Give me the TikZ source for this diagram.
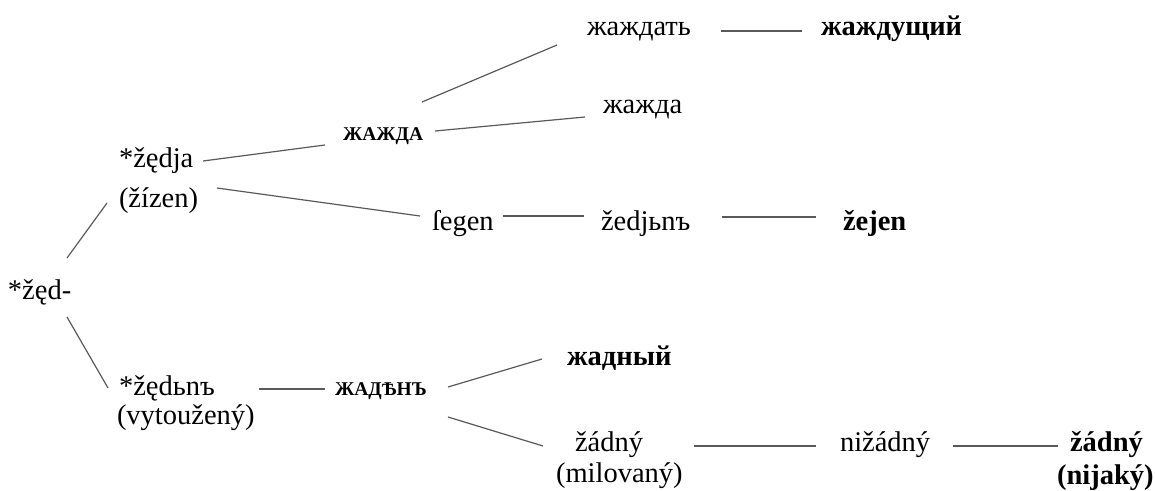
\documentclass[tikz,border=0pt]{standalone}
\usepackage{fontspec}
\setmainfont{Liberation Serif}
\begin{document}
\begin{tikzpicture}[x=1pt,y=-1pt,
  lbl/.style={anchor=base west, inner sep=0pt, outer sep=0pt, font=\fontsize{28.5}{34}\selectfont},
  bld/.style={anchor=base west, inner sep=0pt, outer sep=0pt, font=\fontsize{28.5}{34}\selectfont\bfseries},
  ocs/.style={anchor=base west, inner sep=0pt, outer sep=0pt, font=\fontsize{19.5}{22}\selectfont\bfseries},
  link/.style={draw=black!65, line width=1.2pt}]
\useasboundingbox (0,0) rectangle (1155,490);

% nodes
\node[lbl] (root) at (8,299) {*žęd-};
\node[lbl] (a1)  at (119,167) {*žędja};
\node[lbl] (a1g) at (119,207) {(žízen)};
\node[lbl] (b1)  at (119,395) {*žędьnъ};
\node[lbl] (b1g) at (117,424) {(vytoužený)};
\node[ocs] (c1)  at (343,140) {ЖАЖДА};
\node[lbl] (d1)  at (587,35) {жаждать};
\node[bld] (e1)  at (821,35) {жаждущий};
\node[lbl] (d2)  at (603,113) {жажда};
\node[lbl] (f1)  at (432,230) {ſegen};
\node[lbl] (f2)  at (601,230) {žedjьnъ};
\node[bld] (f3)  at (843,230) {žejen};
\node[ocs] (g)   at (335,395) {ЖАДѢНЪ};
\node[bld] (h1)  at (567,365) {жадный};
\node[lbl] (h2)  at (575,451) {žádný};
\node[lbl] (h2g) at (556,482) {(milovaný)};
\node[lbl] (i)   at (840,451) {nižádný};
\node[bld] (j)   at (1070,451) {žádný};
\node[bld] (jg)  at (1057,484) {(nijaký)};

% connectors
\draw[link] ([shift={(59,-41)}]root.base west) -- ([shift={(-12,36)}]a1.base west);
\draw[link] ([shift={(59,18)}]root.base west) -- ([shift={(-11,-7)}]b1.base west);
\draw[link] ([shift={(84,-6)}]a1.base west) -- ([shift={(-18,5)}]c1.base west);
\draw[link] ([shift={(98,-19)}]a1g.base west) -- ([shift={(-12,-14)}]f1.base west);
\draw[link] ([shift={(79,-38)}]c1.base west) -- ([shift={(-30,10)}]d1.base west);
\draw[link] ([shift={(92,-9)}]c1.base west) -- ([shift={(-18,4)}]d2.base west);
\draw[link] ([shift={(134,-4)}]d1.base west) -- ([shift={(-19,-4)}]e1.base west);
\draw[link] ([shift={(71,-14)}]f1.base west) -- ([shift={(-17,-14)}]f2.base west);
\draw[link] ([shift={(121,-13)}]f2.base west) -- ([shift={(-27,-13)}]f3.base west);
\draw[link] ([shift={(140,-6)}]b1.base west) -- ([shift={(-10,-6)}]g.base west);
\draw[link] ([shift={(113,-8)}]g.base west) -- ([shift={(-25,-6)}]h1.base west);
\draw[link] ([shift={(113,22)}]g.base west) -- ([shift={(-32,-5)}]h2.base west);
\draw[link] ([shift={(119,-5)}]h2.base west) -- ([shift={(-24,-5)}]i.base west);
\draw[link] ([shift={(113,-5)}]i.base west) -- ([shift={(-12,-5)}]j.base west);
\end{tikzpicture}
\end{document}
